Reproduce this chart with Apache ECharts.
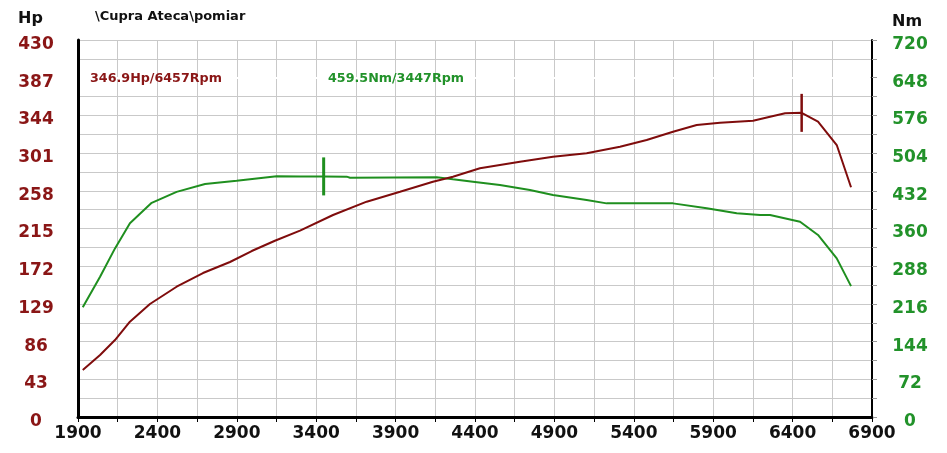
<!DOCTYPE html>
<html>
<head>
<meta charset="utf-8">
<script src="https://cdn.jsdelivr.net/npm/echarts@6/dist/echarts.min.js"></script>
<style>
html,body{margin:0;padding:0;background:#fff;}
#chart{width:947px;height:453px;}
</style>
</head>
<body>
<div id="chart"></div>
<script>
// ---- data ----
var title = '\\Cupra Ateca\\pomiar';
var rpmMin = 1900, rpmMax = 6900;
var xTickLabels = [1900, 2400, 2900, 3400, 3900, 4400, 4900, 5400, 5900, 6400, 6900];
var hpTickLabels = [0, 43, 86, 129, 172, 215, 258, 301, 344, 387, 430];
var nmTickLabels = [0, 72, 144, 216, 288, 360, 432, 504, 576, 648, 720];

var hpRpm = [1930, 2039, 2133, 2227, 2353, 2521, 2687, 2857, 2994, 3140, 3298, 3506, 3718, 3928, 4135, 4261, 4431, 4683, 4891, 5103, 5313, 5481, 5647, 5796, 5943, 6151, 6258, 6353, 6457, 6560, 6678, 6768];
var hpVal = [53.6, 70.7, 87.8, 108.7, 128.9, 148.6, 164.2, 176.8, 189.3, 201, 212.5, 230.4, 245.6, 257, 268.4, 274.1, 283.7, 291.2, 296.9, 300.8, 308.3, 315.9, 325.4, 333.1, 335.7, 338, 342.5, 346.4, 346.9, 336.8, 310.2, 262];

var nmRpm = [1930, 2039, 2133, 2227, 2364, 2521, 2700, 2899, 3151, 3298, 3447, 3592, 3613, 4159, 4261, 4387, 4557, 4746, 4891, 5103, 5229, 5647, 5859, 6048, 6195, 6258, 6447, 6560, 6678, 6768];
var nmVal = [209.5, 268, 322, 370, 409, 430, 445, 451, 460, 459.5, 459.5, 459, 457, 457.8, 454, 449.5, 443, 433.5, 424, 414.4, 408, 408, 398.6, 389, 385.8, 385.8, 373, 347.6, 303, 250];

var hpPeak = {rpm: 6457, value: 346.9};
var nmPeak = {rpm: 3447, value: 459.5};

// ---- styles ----
var FONT = 'DejaVu Sans';
var HP_LINE = '#7f0c0c', HP_TEXT = '#8a1616';
var NM_LINE = '#1f8f1f', NM_TEXT = '#22922a';

function pairs(xs, ys) {
  return xs.map(function (x, i) { return [x - rpmMin, ys[i]]; });
}
function inList(list, v) {
  for (var i = 0; i < list.length; i++) if (Math.abs(list[i] - v) < 1e-6) return true;
  return false;
}

var chart = echarts.init(document.getElementById('chart'), null, {renderer: 'canvas'});
chart.setOption({
  animation: false,
  backgroundColor: '#ffffff',
  grid: {left: 78, right: 75, top: 40, bottom: 36, containLabel: false},
  xAxis: {
    type: 'value', min: 0, max: rpmMax - rpmMin, interval: 250,
    axisLine: {show: true, lineStyle: {color: '#000', width: 3}},
    axisTick: {show: true, inside: false, length: 5, lineStyle: {color: '#000', width: 1}},
    axisLabel: {
      margin: 8, color: '#111', fontFamily: FONT, fontWeight: 'bold', fontSize: 17,
      showMinLabel: true, showMaxLabel: true,
      formatter: function (v) { var r = v + rpmMin; return inList(xTickLabels, r) ? String(r) : ''; }
    },
    splitLine: {show: true, lineStyle: {color: '#c9c9c9', width: 1}}
  },
  yAxis: [{
    type: 'value', min: 0, max: 430, interval: 21.5, position: 'left',
    axisLine: {show: true, lineStyle: {color: '#000', width: 3}},
    axisTick: {show: false},
    axisLabel: {
      margin: 42, align: 'center',
      formatter: function (v) { return inList(hpTickLabels, v) ? '{a|' + Math.round(v) + '}' : ''; },
      rich: {a: {color: HP_TEXT, fontFamily: FONT, fontWeight: 'bold', fontSize: 17, padding: [9, 0, 0, 0], align: 'center'}}
    },
    splitLine: {show: true, lineStyle: {color: '#c9c9c9', width: 1}}
  }, {
    type: 'value', min: 0, max: 720, interval: 36, position: 'right',
    axisLine: {show: true, lineStyle: {color: '#000', width: 2}},
    axisTick: {show: true, inside: false, length: 5, lineStyle: {color: '#999', width: 1}},
    axisLabel: {
      margin: 38, align: 'center',
      formatter: function (v) { return inList(nmTickLabels, v) ? '{a|' + Math.round(v) + '}' : ''; },
      rich: {a: {color: NM_TEXT, fontFamily: FONT, fontWeight: 'bold', fontSize: 17, padding: [9, 0, 0, 0], align: 'center'}}
    },
    splitLine: {show: false}
  }],
  series: [{
    name: 'Nm', type: 'line', yAxisIndex: 1, data: pairs(nmRpm, nmVal),
    showSymbol: false, smooth: false,
    lineStyle: {color: NM_LINE, width: 2}, itemStyle: {color: NM_LINE},
    markPoint: {
      symbol: 'rect', symbolSize: [3, 38], label: {show: false},
      itemStyle: {color: NM_LINE},
      data: [{coord: [nmPeak.rpm - rpmMin, nmPeak.value]}]
    }
  }, {
    name: 'Hp', type: 'line', yAxisIndex: 0, data: pairs(hpRpm, hpVal),
    showSymbol: false, smooth: false,
    lineStyle: {color: HP_LINE, width: 2}, itemStyle: {color: HP_LINE},
    markPoint: {
      symbol: 'rect', symbolSize: [2.5, 38], label: {show: false},
      itemStyle: {color: HP_LINE},
      data: [{coord: [hpPeak.rpm - rpmMin, hpPeak.value]}]
    }
  }],
  graphic: [
    {type: 'rect', left: 80, top: 77, z: 1, shape: {width: 790, height: 2}, style: {fill: '#ffffff'}},
    {type: 'text', left: 18, top: 11, z: 5, style: {text: 'Hp', font: 'bold 16px "' + FONT + '"', fill: '#111'}},
    {type: 'text', left: 892, top: 14, z: 5, style: {text: 'Nm', font: 'bold 16px "' + FONT + '"', fill: '#111'}},
    {type: 'text', left: 95, top: 10, z: 5, style: {text: title, font: 'bold 13px "' + FONT + '"', fill: '#111'}},
    {type: 'text', left: 90, top: 72, z: 5, style: {text: hpPeak.value.toFixed(1) + 'Hp/' + hpPeak.rpm + 'Rpm', font: 'bold 12.7px "' + FONT + '"', fill: HP_TEXT}},
    {type: 'text', left: 328, top: 72, z: 5, style: {text: nmPeak.value.toFixed(1) + 'Nm/' + nmPeak.rpm + 'Rpm', font: 'bold 12.7px "' + FONT + '"', fill: NM_TEXT}}
  ]
});
</script>
</body>
</html>
